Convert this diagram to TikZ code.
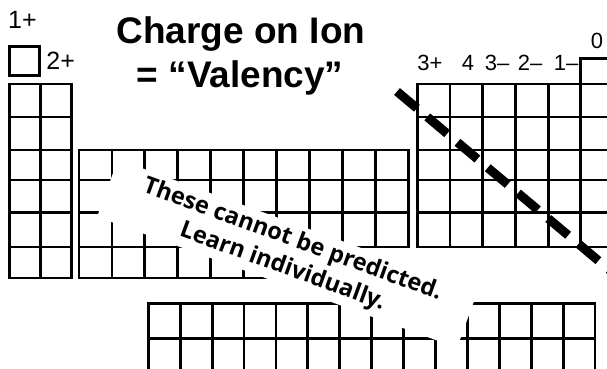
\documentclass[tikz,border=0pt]{standalone}
\usepackage{fontspec}
\setmainfont{Liberation Sans}
\newfontfamily\notefont{Open Sans}
\usetikzlibrary{positioning}

\begin{document}
\begin{tikzpicture}[
  x=1pt, y=-1pt,
  cell/.style={line width=2.8pt, line cap=rect},
  charge/.style={font=\fontsize{25}{25}\selectfont, inner sep=0pt},
  group/.style={font=\fontsize{22}{22}\selectfont, inner sep=0pt, anchor=base},
  heading/.style={font=\fontsize{37}{37}\selectfont\bfseries, inner sep=0pt, anchor=base},
  note/.style={fill=white, font=\notefont\bfseries\fontsize{23.5}{29}\selectfont, align=center,
    minimum width=383pt, minimum height=61pt, inner sep=0pt, rotate=-20},
  cutline/.style={line width=9pt, dash pattern=on 26pt off 13.5pt}
]
\clip (0,0) rectangle (607,368);
\fill[white] (0,0) rectangle (607,368);

% title
\node[heading] (title) at (241,43.3) {Charge on Ion};
\node[heading] (valency) at (240,87) {= “Valency”};

% hydrogen and groups 1, 2
\node[cell, draw, minimum width=30pt, minimum height=28.5pt] (hydrogen) at (24.8,61) {};
\node[charge, anchor=base] (one) at (22.5,28) {1+};
\node[charge, right=5pt of hydrogen] (two) {2+};
\foreach \y in {84,117,150,180,212.5,247,278}
  \draw[cell] (9.5,\y) -- (71.5,\y);
\foreach \x in {9.5,40.5,71.5}
  \draw[cell] (\x,84) -- (\x,278);

% transition metals
\foreach \y in {150,180,212.5,247}
  \draw[cell] (79,\y) -- (408.3,\y);
\foreach \i in {0,...,10}
  \draw[cell] (79+32.93*\i,150) -- (79+32.93*\i,247);
\draw[cell] (79,278) -- (276.6,278);
\foreach \i in {0,...,6}
  \draw[cell] (79+32.93*\i,247) -- (79+32.93*\i,278);

% groups 3 to 0
\foreach \y in {84,117,150,180,212.5,247}
  \draw[cell] (417.3,\y) -- (620,\y);
\foreach \i in {0,...,6}
  \draw[cell] (417.3+32.7*\i,84) -- (417.3+32.7*\i,247);
\draw[cell] (580.8,84) -- (580.8,58.3) -- (620,58.3);
\draw[cell] (613.5,58.3) -- (613.5,84);

\node[group] (g13) at (430,70) {3+};
\node[group] (g14) at (468,70) {4};
\node[group] (g15) at (497,70) {3--};
\node[group] (g16) at (530,70) {2--};
\node[group] (g17) at (566,70) {1--};
\node[group] (g18) at (597,48) {0};

% lanthanides and actinides
\foreach \y in {303.3,338.3,373.3}
  \draw[cell] (148.3,\y) -- (595,\y);
\foreach \i in {0,...,14}
  \draw[cell] (148.3+31.91*\i,303.3) -- (148.3+31.91*\i,373.3);

% note over the grid
\node[note] (note) at (287.5,253.6) {These cannot be predicted.\\Learn individually.};

% metal / non-metal divide
\coordinate (cutA) at (397,91.5);
\coordinate (cutB) at (625,283);
\draw[cutline] (cutA) -- (cutB);
\end{tikzpicture}
\end{document}
